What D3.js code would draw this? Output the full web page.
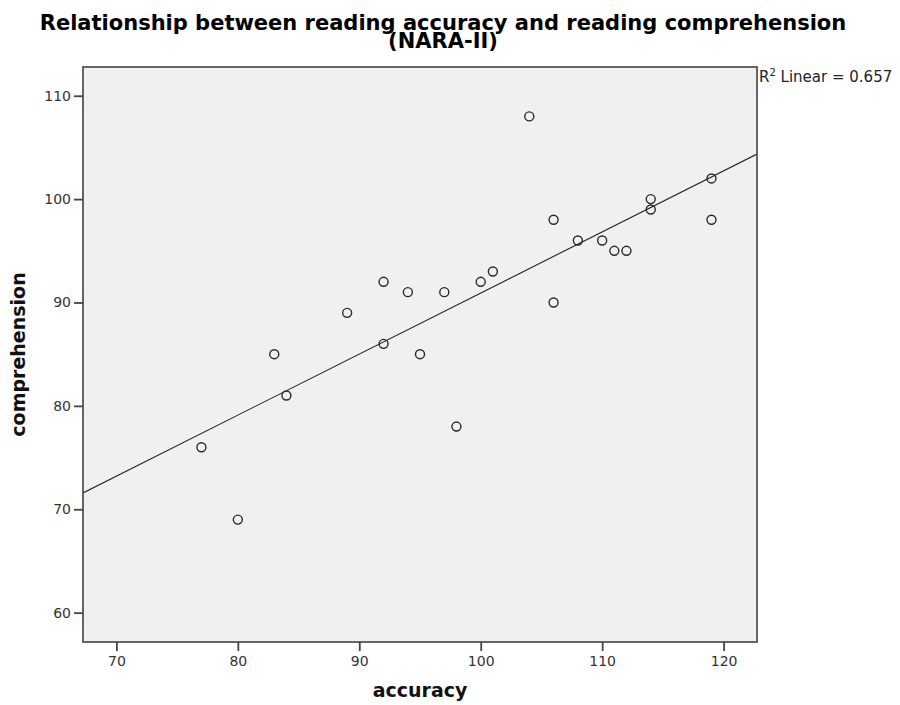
<!DOCTYPE html>
<html>
<head>
<meta charset="utf-8">
<script src="https://cdn.jsdelivr.net/npm/d3@7"></script>
<style>
  body { margin: 0; background: #ffffff; }
  svg { display: block; }
</style>
</head>
<body>
<svg id="chart" width="900" height="705"></svg>
<script>
// ---- data ----
const accuracy = [77, 80, 83, 84, 89, 92, 92, 94, 95, 97, 98, 100, 101, 104, 106, 106, 108, 110, 111, 112, 114, 114, 119, 119];
const comprehension = [76, 69, 85, 81, 89, 92, 86, 91, 85, 91, 78, 92, 93, 108, 98, 90, 96, 96, 95, 95, 100, 99, 102, 98];
const xTicks = [70, 80, 90, 100, 110, 120];
const yTicks = [60, 70, 80, 90, 100, 110];
const titleLines = ["Relationship between reading accuracy and reading comprehension", "(NARA-II)"];
const xLabel = "accuracy";
const yLabel = "comprehension";
const r2Value = "0.657";

// ---- layout ----
const W = 900, H = 705;
const margin = { left: 83, right: 143, top: 67, bottom: 63 };
const plotW = W - margin.left - margin.right;
const plotH = H - margin.top - margin.bottom;

const svg = d3.select("#chart");

const x = d3.scaleLinear().domain([67.25, 122.75]).range([0, plotW]);
const y = d3.scaleLinear().domain([57.16, 112.78]).range([plotH, 0]);

const g = svg.append("g").attr("transform", `translate(${margin.left},${margin.top})`);

// plot background
g.append("rect")
  .attr("x", 0).attr("y", 0).attr("width", plotW).attr("height", plotH)
  .attr("fill", "#f0f0f0");

g.append("clipPath").attr("id", "clip")
  .append("rect").attr("width", plotW).attr("height", plotH);

// regression line (least squares from the data)
const pts = accuracy.map((a, i) => ({ x: a, y: comprehension[i] }));
const mx = d3.mean(accuracy), my = d3.mean(comprehension);
const sxy = d3.sum(pts, p => (p.x - mx) * (p.y - my));
const sxx = d3.sum(pts, p => (p.x - mx) * (p.x - mx));
const slope = sxy / sxx, intercept = my - slope * mx;
const [x0, x1] = x.domain();
g.append("line")
  .attr("clip-path", "url(#clip)")
  .attr("x1", x(x0)).attr("y1", y(intercept + slope * x0))
  .attr("x2", x(x1)).attr("y2", y(intercept + slope * x1))
  .attr("stroke", "#222").attr("stroke-width", 1.1);

// points
g.selectAll("circle.pt").data(pts).enter().append("circle")
  .attr("class", "pt")
  .attr("cx", d => x(d.x)).attr("cy", d => y(d.y))
  .attr("r", 4.5)
  .attr("fill", "none").attr("stroke", "#2a2a2a").attr("stroke-width", 1.4);

// frame
g.append("rect")
  .attr("x", 0).attr("y", 0).attr("width", plotW).attr("height", plotH)
  .attr("fill", "none").attr("stroke", "#555").attr("stroke-width", 1.8);

// axes
const xAxis = d3.axisBottom(x).tickValues(xTicks).tickSize(9).tickPadding(5).tickFormat(d3.format("d"));
const yAxis = d3.axisLeft(y).tickValues(yTicks).tickSize(9).tickPadding(3).tickFormat(d3.format("d"));

const gx = g.append("g").attr("transform", `translate(0,${plotH})`).call(xAxis);
const gy = g.append("g").call(yAxis);
[gx, gy].forEach(a => {
  a.select(".domain").remove();
  a.selectAll(".tick line").attr("stroke", "#444").attr("stroke-width", 1.8);
  a.selectAll(".tick text")
    .attr("fill", "#333")
    .style("font-family", "'DejaVu Sans', sans-serif")
    .style("font-size", "14px");
});

// title
const title = svg.append("text")
  .attr("text-anchor", "middle")
  .style("font-family", "'DejaVu Sans', sans-serif")
  .style("font-weight", "bold")
  .style("font-size", "21px")
  .attr("fill", "#000");
title.append("tspan").attr("x", 443).attr("y", 30).text(titleLines[0]);
title.append("tspan").attr("x", 443).attr("y", 48).text(titleLines[1]);

// axis labels
svg.append("text")
  .attr("x", margin.left + plotW / 2).attr("y", 697)
  .attr("text-anchor", "middle")
  .style("font-family", "'DejaVu Sans', sans-serif")
  .style("font-weight", "bold").style("font-size", "19px")
  .attr("fill", "#111")
  .text(xLabel);

svg.append("text")
  .attr("transform", `translate(25,${margin.top + plotH / 2}) rotate(-90)`)
  .attr("text-anchor", "middle")
  .style("font-family", "'DejaVu Sans', sans-serif")
  .style("font-weight", "bold").style("font-size", "19px")
  .attr("fill", "#111")
  .text(yLabel);

// R² annotation
const r2 = svg.append("text")
  .attr("x", margin.left + plotW + 2).attr("y", 82)
  .style("font-family", "'DejaVu Sans', sans-serif")
  .style("font-size", "15px")
  .attr("fill", "#222");
r2.append("tspan").text("R");
r2.append("tspan").attr("dy", -6).style("font-size", "10px").text("2");
r2.append("tspan").attr("dy", 6).text(" Linear = " + r2Value);
</script>
</body>
</html>
